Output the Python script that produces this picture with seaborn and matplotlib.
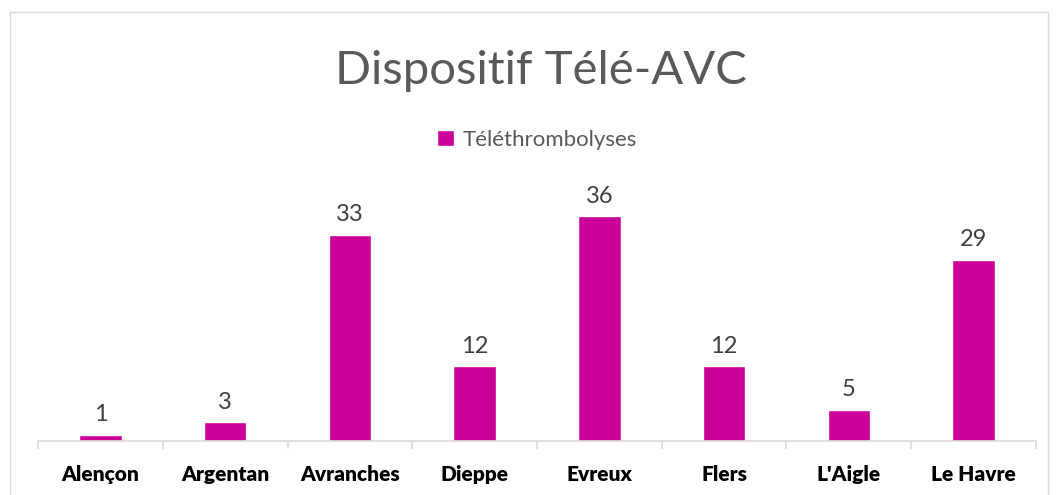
import numpy as np
import pandas as pd
import seaborn as sns
import matplotlib.pyplot as plt
from matplotlib.patches import Rectangle

villes = ["Alençon", "Argentan", "Avranches", "Dieppe", "Evreux", "Flers", "L'Aigle", "Le Havre"]
telethrombolyses = [1, 3, 33, 12, 36, 12, 5, 29]

df = pd.DataFrame({"ville": villes, "n": telethrombolyses})

sns.set_theme(style="white")
plt.rcParams['font.family'] = ['Lato', 'DejaVu Sans']

couleur = "#CC0099"
fig = plt.figure(figsize=(10.57, 4.95), dpi=100)
ax = fig.add_axes([0.036, 0.109, 0.944, 0.505])

sns.barplot(data=df, x="ville", y="n", color=couleur, width=0.34, ax=ax,
            saturation=1, label="Téléthrombolyses")

for i, v in enumerate(telethrombolyses):
    ax.text(i, v + 1.5, str(v), ha="center", va="bottom", fontsize=17, color="#404040")

ax.set_ylim(0, 40)
ax.set_xlim(-0.5, len(villes) - 0.5)
ax.set_xlabel("")
ax.set_ylabel("")
ax.set_yticks([])
for s in ["top", "right", "left"]:
    ax.spines[s].set_visible(False)
ax.spines["bottom"].set_color("#D9D9D9")
ax.spines["bottom"].set_linewidth(1.2)
ax.set_xticks(np.arange(-0.5, len(villes)), minor=True)
ax.tick_params(axis="x", which="minor", bottom=True, length=6, color="#D9D9D9", width=1.2)
ax.tick_params(axis="x", which="major", length=0, pad=17)
ax.set_xticks(range(len(villes)))
ax.set_xticklabels(villes, fontsize=15, fontweight="heavy", color="black")

fig.text(0.512, 0.856, "Dispositif Télé-AVC", ha="center", va="center", fontsize=34,
         color="#595959", fontweight="normal")
leg = ax.legend(loc="center", bbox_to_anchor=(0.5, 1.205), frameon=False,
                fontsize=16, handlelength=0.75, handleheight=0.75, handletextpad=0.4)
for t in leg.get_texts():
    t.set_color("#595959")

fig.patches.append(Rectangle((10 / 1057, -0.01), 1038 / 1057, (495 - 12) / 495 + 0.01,
                             transform=fig.transFigure, fill=False,
                             edgecolor="#D9D9D9", linewidth=1))

fig.savefig("out.png", dpi=100)
